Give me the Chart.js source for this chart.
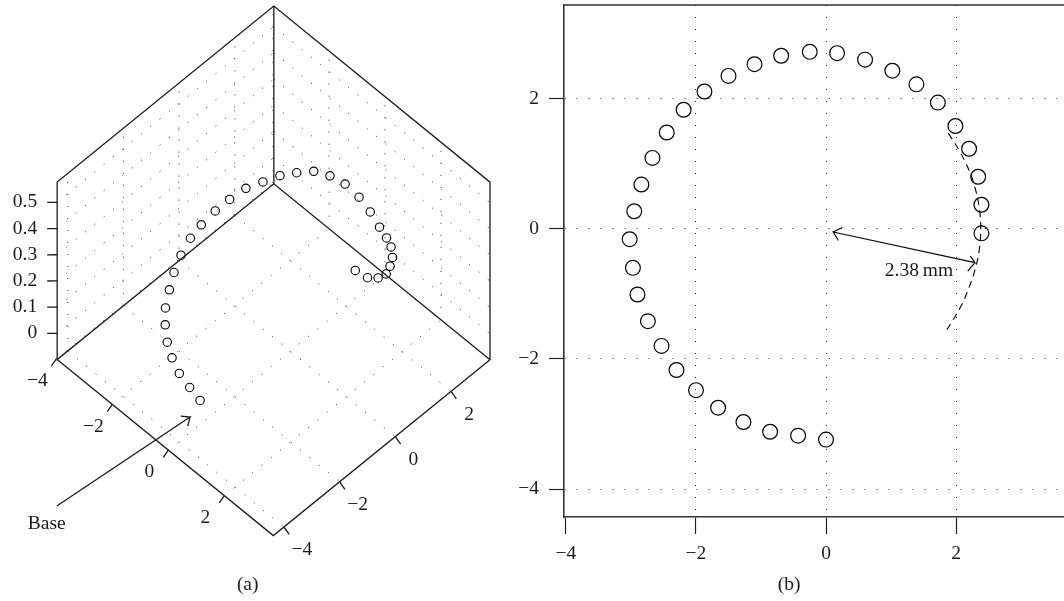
<!DOCTYPE html>
<html>
<head>
<meta charset="utf-8">
<script src="https://cdn.jsdelivr.net/npm/chart.js@4"></script>
<style>
html,body{margin:0;padding:0;background:#fff;}
#wrap{position:relative;width:1064px;height:601px;overflow:hidden;background:#fff;}
.c{position:absolute;top:0;height:601px;}
#ca{left:0;width:500px;}
#cb{left:500px;width:564px;}
</style>
</head>
<body>
<div id="wrap">
  <div class="c" id="ca"><canvas id="a"></canvas></div>
  <div class="c" id="cb"><canvas id="b"></canvas></div>
</div>
<script>
// ---- data ----
const xValues = [0,-0.43,-0.86,-1.27,-1.66,-2.0,-2.30,-2.53,-2.74,-2.90,-2.97,-3.02,-2.95,-2.84,-2.67,-2.45,-2.19,-1.87,-1.50,-1.10,-0.69,-0.25,0.17,0.60,1.02,1.39,1.72,1.99,2.20,2.34,2.39,2.39];
const yValues = [-3.24,-3.18,-3.12,-2.97,-2.75,-2.48,-2.17,-1.80,-1.42,-1.01,-0.60,-0.16,0.27,0.68,1.09,1.48,1.83,2.11,2.35,2.53,2.66,2.72,2.70,2.60,2.43,2.22,1.94,1.58,1.23,0.80,0.37,-0.07];
const zValues = [-0.009,-0.002,0.009,0.020,0.027,0.040,0.052,0.069,0.084,0.101,0.124,0.133,0.155,0.173,0.195,0.205,0.221,0.236,0.253,0.255,0.248,0.231,0.213,0.201,0.211,0.227,0.240,0.261,0.280,0.314,0.356,0.422];
const arcX = [1.88,2.05,2.20,2.30,2.36,2.38,2.36,2.30,2.20,2.07,1.83];
const arcY = [1.47,1.20,0.90,0.60,0.30,0,-0.30,-0.60,-0.90,-1.20,-1.60];
const radiusArrowX = [0.25,0.11,0.19,0.11,2.29,2.22,2.29,2.18];
const radiusArrowY = [0.02,-0.05,-0.18,-0.05,-0.52,-0.42,-0.52,-0.65];
const baseArrowX = [-0.76,-0.338,-0.526,-0.338,-0.181];
const baseArrowY = [-7.62,-3.26,-3.41,-3.26,-3.50];
const xTicks = [-4,-2,0,2];
const yTicks = [-4,-2,0,2];
const zTicks = [0,0.1,0.2,0.3,0.4,0.5];
const xRange = [-3.97,3.75];
const yRange = [-4.38,3.40];
const zRange = [-0.10,0.578];
const yRangeB = [-4.43,3.44];
const xRangeB = [-4.03,3.66];

const fmt = v => String(v).replace('-', '\u2212');
const FONT = '19.5px "Liberation Serif", serif';
const INK = '#1a1a1a';

// oblique projection of panel (a)
const project = (x, y, z) => ({
  x: 28 * x + 27.85 * y,
  y: -22.8 * x + 22.6 * y + 262 * (z - zRange[0])
});
const [x0, x1] = xRange, [y0, y1] = yRange, [z0, z1] = zRange;

const poly = (pts, extra) => Object.assign({
  data: pts, showLine: true, pointRadius: 0, borderColor: INK, borderWidth: 1.3,
  fill: false, clip: false, tension: 0
}, extra || {});
const dotted = { borderDash: [1, 11], borderWidth: 1, borderColor: '#333' };

const aSets = [];
// dotted grids: floor and both walls
xTicks.forEach(x => {
  aSets.push(poly([project(x, y0, z0), project(x, y1, z0)], dotted));
  aSets.push(poly([project(x, y1, z0), project(x, y1, z1)], dotted));
});
yTicks.forEach(y => {
  aSets.push(poly([project(x0, y, z0), project(x1, y, z0)], dotted));
  aSets.push(poly([project(x0, y, z0), project(x0, y, z1)], dotted));
});
zTicks.forEach(z => {
  aSets.push(poly([project(x0, y0, z), project(x0, y1, z)], dotted));
  aSets.push(poly([project(x0, y1, z), project(x1, y1, z)], dotted));
});
// box
aSets.push(poly([project(x0,y0,z0),project(x1,y0,z0),project(x1,y1,z0),project(x0,y1,z0),project(x0,y0,z0),project(x0,y0,z1),project(x0,y1,z1),project(x1,y1,z1),project(x1,y1,z0)]));
aSets.push(poly([project(x0,y1,z0),project(x0,y1,z1)]));
// ticks
xTicks.forEach(x => aSets.push(poly([project(x,y0,z0),project(x,y0-0.18,z0-0.012)])));
yTicks.forEach(y => aSets.push(poly([project(x1,y,z0),project(x1+0.19,y,z0-0.012)])));
zTicks.forEach(z => aSets.push(poly([project(x0,y0,z),project(x0-0.177,y0-0.18,z)])));
// base arrow
aSets.push(poly(baseArrowX.map((x,i) => project(x, baseArrowY[i], z0))));
// points
aSets.push({
  data: xValues.map((x,i) => project(x, yValues[i], zValues[i])),
  pointRadius: 4.2, pointBorderWidth: 1.1, pointBorderColor: '#000',
  pointBackgroundColor: 'rgba(0,0,0,0)', showLine: false, clip: false
});

const textPlugin = (id, draw) => ({ id, afterDatasetsDraw(chart) {
  const c = chart.ctx; c.save(); c.font = FONT; c.fillStyle = INK; c.textBaseline = 'middle';
  const t = (s, px, py, align) => { c.textAlign = align || 'center'; c.fillText(s, px, py); };
  draw(chart, t); c.restore();
}});

const labelsA = textPlugin('labelsA', (chart, t) => {
  const sx = chart.scales.x, sy = chart.scales.y;
  const at = (x,y,z) => { const p = project(x,y,z); return [sx.getPixelForValue(p.x), sy.getPixelForValue(p.y)]; };
  xTicks.forEach(x => { const [a,b] = at(x,y0,z0); t(fmt(x), a-19, b+22); });
  yTicks.forEach(y => { const [a,b] = at(x1,y,z0); t(fmt(y), a+18, b+23); });
  zTicks.forEach(z => { const [a,b] = at(x0,y0,z); t(fmt(z), a-20, b, 'right'); });
  const [ba,bb] = at(baseArrowX[0], baseArrowY[0], z0);
  t('Base', ba-10, bb+18);
  t('(a)', 247.7, 585);
});

new Chart(document.getElementById('a'), {
  type: 'scatter',
  data: { datasets: aSets },
  plugins: [labelsA],
  options: {
    responsive: true, maintainAspectRatio: false, animation: false,
    layout: { padding: 0, autoPadding: false },
    plugins: { legend: { display: false }, tooltip: { enabled: false } },
    scales: {
      x: { display: false, min: -290.3, max: 209.7 },
      y: { display: false, min: -249.9, max: 351.1 }
    }
  }
});

const labelsB = textPlugin('labelsB', (chart, t) => {
  const sx = chart.scales.x, sy = chart.scales.y;
  t('2.38\u2009mm', sx.getPixelForValue(1.43), sy.getPixelForValue(-0.65));
  t('(b)', 289, 585);
});

new Chart(document.getElementById('b'), {
  type: 'scatter',
  data: { datasets: [
    poly([{x:xRangeB[0],y:yRangeB[1]},{x:xRangeB[1],y:yRangeB[1]}], {borderWidth:1.6, borderColor:'#333'}),
    poly(arcX.map((x,i)=>({x,y:arcY[i]})), {borderDash:[7,5], tension:0.4, borderWidth:1.1, borderColor:'#000'}),
    poly(radiusArrowX.map((x,i)=>({x,y:radiusArrowY[i]})), {borderColor:'#000', borderWidth:1.1}),
    { data: xValues.map((x,i)=>({x,y:yValues[i]})),
      pointRadius: 7.4, pointBorderWidth: 1.2, pointBorderColor:'#000',
      pointBackgroundColor:'rgba(0,0,0,0)', showLine:false, clip:false }
  ]},
  plugins: [labelsB],
  options: {
    responsive: true, maintainAspectRatio: false, animation: false,
    layout: { padding: { top: 5, left: 0, right: 0, bottom: 0 }, autoPadding: false },
    plugins: { legend: { display: false }, tooltip: { enabled: false } },
    scales: {
      x: {
        min: xRangeB[0], max: xRangeB[1],
        afterBuildTicks: s => { s.ticks = xTicks.map(value => ({value})); },
        afterFit: s => { s.height = 84; s.paddingLeft = 0; s.paddingRight = 0; },
        grid: { color: c => (c.tick && c.tick.value === -4) ? 'rgba(0,0,0,0)' : '#222', lineWidth: 1, tickLength: 17, tickColor: '#222', tickWidth: 1.2, tickBorderDash: [] },
        border: { color: '#333', width: 1.6, dash: [1,11] },
        ticks: { color: INK, font: { family: '"Liberation Serif", serif', size: 19.5 }, padding: 8, maxRotation: 0, autoSkip: false, callback: fmt }
      },
      y: {
        min: yRangeB[0], max: yRangeB[1],
        afterBuildTicks: s => { s.ticks = yTicks.map(value => ({value})); },
        afterFit: s => { s.width = 64; s.paddingTop = 0; s.paddingBottom = 0; },
        grid: { color: '#222', lineWidth: 1, tickLength: 15, tickColor: '#222', tickWidth: 1.2, tickBorderDash: [] },
        border: { color: '#333', width: 1.6, dash: [1,11] },
        ticks: { color: INK, font: { family: '"Liberation Serif", serif', size: 19.5 }, padding: 10, autoSkip: false, callback: fmt }
      }
    }
  }
});
</script>
</body>
</html>
